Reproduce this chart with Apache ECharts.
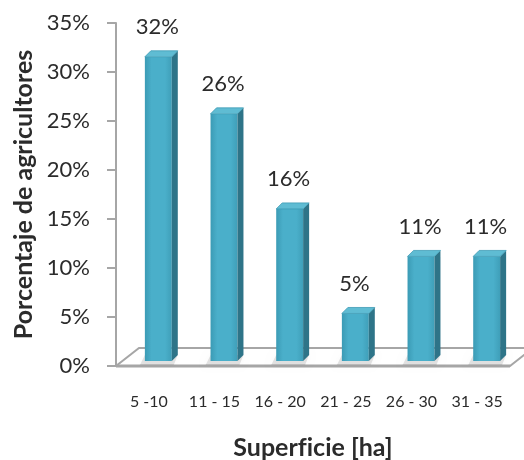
<!DOCTYPE html>
<html>
<head>
<meta charset="utf-8">
<script src="https://cdn.jsdelivr.net/npm/echarts@6/dist/echarts.min.js"></script>
<style>
  html, body { margin: 0; padding: 0; background: #ffffff; }
  #chart { width: 524px; height: 460px; }
</style>
</head>
<body>
<div id="chart"></div>
<script>
// Farm size classes (hectares) and share of farmers in each class (%)
const categories = ['5 -10', '11 - 15', '16 - 20', '21 - 25', '26 - 30', '31 - 35'];
const shares = [32, 26, 16, 5, 11, 11];

// Value axis range for the percentage scale
const yMin = 0;
const yMax = 35;
const yStep = 5;

// Axis titles (a zero-width non-joiner keeps "f" and "i" as separate glyphs)
const xTitle = 'Superf\u200Cicie [ha]';
const yTitle = 'Porcentaje de agricultores';

const FONT = 'Lato, "Open Sans", sans-serif';
const AXIS_GRAY = '#a6a6a6';
const TEXT = '#2b2b2b';

// Oblique projection used for the 3D look
const FLOOR_DEPTH = [23, -18];   // floor back edge offset
const BAR_DEPTH = [6, -6];       // thickness of each box
const BAR_SHIFT = [9.5, -5];     // bars stand a little behind the front edge
const DEPTH_SCALE = 0.97;        // heights shrink slightly on the bar plane

const chart = echarts.init(document.getElementById('chart'), null, { renderer: 'canvas' });

function renderFloor(params, api) {
  const n = categories.length;
  const band = api.size([1, 0])[0];
  const first = api.coord([0, 0]);
  const last = api.coord([n - 1, 0]);
  const xl = first[0] - band / 2;
  const xr = last[0] + band / 2;
  const y = first[1];
  const dx = FLOOR_DEPTH[0], dy = FLOOR_DEPTH[1];
  return {
    type: 'group',
    children: [
      {
        type: 'polygon',
        shape: { points: [[xl, y], [xr, y], [xr + dx, y + dy], [xl + dx, y + dy]] },
        style: { fill: '#ffffff', stroke: AXIS_GRAY, lineWidth: 2 }
      },
      {
        type: 'line',
        shape: { x1: xl, y1: y, x2: xr, y2: y },
        style: { stroke: AXIS_GRAY, lineWidth: 3 }
      }
    ]
  };
}

function renderBar(params, api) {
  const i = api.value(0);
  const v = api.value(1);
  const base = api.coord([i, 0]);
  const top = api.coord([i, v]);
  const band = api.size([1, 0])[0];
  const w = band * 0.41;
  const h = (base[1] - top[1]) * DEPTH_SCALE;
  const cx = base[0] + BAR_SHIFT[0];
  const x0 = cx - w / 2;
  const x1 = cx + w / 2;
  const yb = base[1] + BAR_SHIFT[1];
  const yt = yb - h;
  const dx = BAR_DEPTH[0], dy = BAR_DEPTH[1];
  return {
    type: 'group',
    children: [
      {
        // soft shadow on the floor
        type: 'polygon',
        shape: { points: [[x0 - 5, yb + 4], [x1 + 2, yb + 4], [x1 + dx, yb + dy], [x0, yb + dy]] },
        style: { fill: 'rgba(0,0,0,0.10)', shadowBlur: 6, shadowColor: 'rgba(0,0,0,0.25)' }
      },
      {
        type: 'rect',
        shape: { x: x0, y: yt, width: w, height: h },
        style: {
          fill: new echarts.graphic.LinearGradient(0, 0, 1, 0, [
            { offset: 0, color: '#3b9bb5' },
            { offset: 0.25, color: '#4aafca' },
            { offset: 0.75, color: '#4aafca' },
            { offset: 1, color: '#3f9fb9' }
          ])
        }
      },
      {
        type: 'polygon',
        shape: { points: [[x1, yt], [x1 + dx, yt + dy], [x1 + dx, yb + dy], [x1, yb]] },
        style: { fill: '#2e7488' }
      },
      {
        type: 'polygon',
        shape: { points: [[x0, yt], [x0 + dx, yt + dy], [x1 + dx, yt + dy], [x1, yt]] },
        style: { fill: '#5fbcd3', stroke: '#3f9cb5', lineWidth: 0.8 }
      },
      {
        type: 'text',
        style: {
          text: v + '%',
          x: cx - 1,
          y: yt + dy - 13,
          align: 'center',
          verticalAlign: 'bottom',
          fontFamily: FONT,
          fontSize: 22,
          fill: TEXT
        }
      }
    ]
  };
}

const option = {
  backgroundColor: '#ffffff',
  animation: false,
  grid: {
    left: 116, top: 23, width: 394, height: 343,
    containLabel: false,
    outerBoundsMode: 'none'
  },
  xAxis: {
    type: 'category',
    data: categories,
    axisLine: { show: false },
    axisTick: { show: false },
    axisLabel: { interval: 0, margin: 28, fontFamily: FONT, fontSize: 16, color: TEXT },
    name: xTitle,
    nameLocation: 'middle',
    nameGap: 69,
    nameTextStyle: { fontFamily: FONT, fontSize: 25, fontWeight: 'bold', color: TEXT }
  },
  yAxis: {
    type: 'value',
    min: yMin,
    max: yMax,
    interval: yStep,
    axisLine: { show: true, lineStyle: { color: AXIS_GRAY, width: 2 } },
    axisTick: { show: true, length: 9, lineStyle: { color: AXIS_GRAY, width: 2 } },
    splitLine: { show: false },
    axisLabel: { formatter: '{value}%', margin: 26, fontFamily: FONT, fontSize: 22, color: TEXT },
    name: yTitle,
    nameLocation: 'middle',
    nameGap: 78,
    nameTextStyle: { fontFamily: FONT, fontSize: 25, fontWeight: 'bold', color: TEXT }
  },
  series: [
    {
      type: 'custom',
      renderItem: renderFloor,
      data: [[0, 0]],
      z: 1,
      silent: true
    },
    {
      type: 'custom',
      renderItem: renderBar,
      data: categories.map((c, i) => [i, shares[i]]),
      z: 2
    }
  ]
};

chart.setOption(option);
</script>
</body>
</html>
